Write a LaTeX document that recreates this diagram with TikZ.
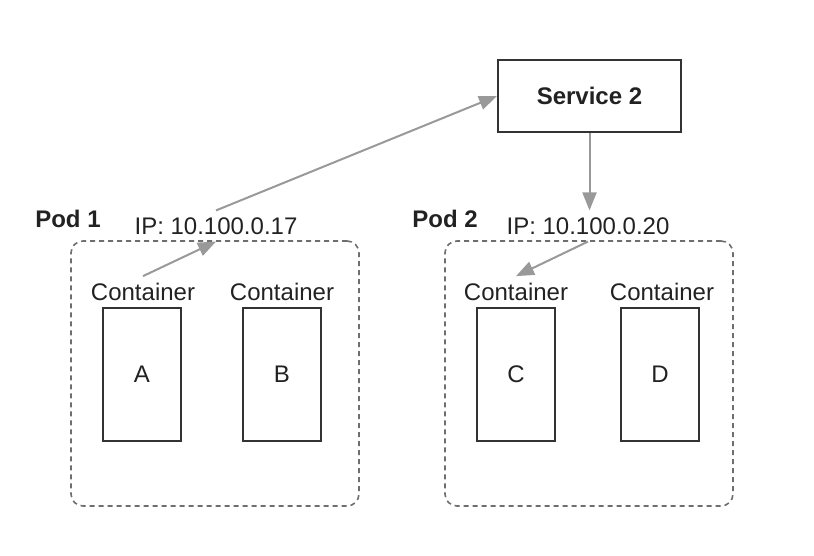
\documentclass[tikz,border=0pt]{standalone}
\usepackage{fontspec}
\setmainfont{Liberation Sans}
\usetikzlibrary{arrows.meta}
\definecolor{linegray}{HTML}{999999}
\definecolor{boxgray}{HTML}{333333}
\definecolor{dashgray}{HTML}{6E6E6E}
\definecolor{inkgray}{HTML}{222222}

\begin{document}
\begin{tikzpicture}[x=0.5pt, y=-0.5pt,
    font=\fontsize{12}{14}\selectfont, text=inkgray,
    box/.style={draw=boxgray, line width=1pt, inner sep=0pt},
    pod/.style={draw=dashgray, line width=0.8pt, dash pattern=on 2.5pt off 2pt,
      rounded corners=6pt, minimum width=144pt, minimum height=132.5pt, inner sep=0pt},
    cont/.style={box, minimum width=39pt, minimum height=66.5pt},
    bold/.style={font=\fontsize{12}{14}\selectfont\bfseries},
    link/.style={draw=linegray, line width=1pt, -{Triangle[length=9pt, width=7pt]}}]
  \useasboundingbox (0,0) rectangle (814,556);
  \def \cy{374};
  \def \ly{292};
  % service
  \node[box, bold, minimum width=91.5pt, minimum height=36pt] (svc) at (589.5,96) {Service 2};
  % pods
  \node[pod] (pod1) at (215,373.5) {};
  \node[pod] (pod2) at (589,373.5) {};
  \node[bold] (pod1name) at (68,219) {Pod 1};
  \node[bold] (pod2name) at (445,219) {Pod 2};
  \node[] (ip1) at (216,226) {IP: 10.100.0.17};
  \node[] (ip2) at (588,226) {IP: 10.100.0.20};
  % containers
  \node[] (lblA) at (143,\ly) {Container};
  \node[] (lblB) at (282,\ly) {Container};
  \node[] (lblC) at (516,\ly) {Container};
  \node[] (lblD) at (662,\ly) {Container};
  \node[cont] (cA) at (142,\cy) {A};
  \node[cont] (cB) at (282,\cy) {B};
  \node[cont] (cC) at (516,\cy) {C};
  \node[cont] (cD) at (660,\cy) {D};
  % traffic
  \draw[link] (lblA.north) -- (ip1.south);
  \draw[link] (ip1.north) -- (svc.west);
  \draw[link] (svc.south) -- (svc.south |- ip2.north);
  \draw[link] (ip2.south) -- (lblC.north);
\end{tikzpicture}
\end{document}
